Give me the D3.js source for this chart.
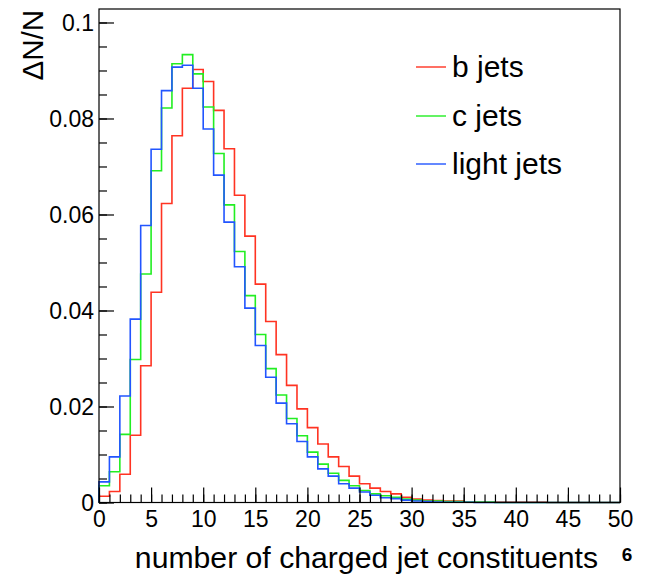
<!DOCTYPE html>
<html>
<head>
<meta charset="utf-8">
<script src="https://cdn.jsdelivr.net/npm/d3@7"></script>
<style>
  body { margin: 0; background: #fff; }
  svg text { font-family: "Liberation Sans", Arial, Helvetica, sans-serif; fill: #000; }
</style>
</head>
<body>
<svg id="chart" width="652" height="577" viewBox="0 0 652 577"></svg>
<script>
// bin contents, 50 bins of width 1 from 0 to 50
const bJets = [0.0013, 0.0023, 0.0059, 0.0140, 0.0285, 0.0438, 0.0623, 0.0764, 0.0863, 0.0902,
  0.0877, 0.0817, 0.0737, 0.0640, 0.0555, 0.0455, 0.0377, 0.0308, 0.0244, 0.0195,
  0.0156, 0.0122, 0.0095, 0.0075, 0.0055, 0.0039, 0.0030, 0.0023, 0.0018, 0.0011,
  0.0007, 0.0005, 0.0004, 0.0003, 0.0003, 0.0001, 0.0001, 0.0001, 0.0001, 0.0001,
  0.0001, 0.0001, 0.0001, 0, 0, 0, 0, 0, 0, 0];
const cJets = [0.0035, 0.0064, 0.0142, 0.0298, 0.0476, 0.0691, 0.0822, 0.0914, 0.0933, 0.0893,
  0.0824, 0.0727, 0.0620, 0.0523, 0.0431, 0.0350, 0.0279, 0.0224, 0.0175, 0.0139,
  0.0105, 0.0080, 0.0061, 0.0046, 0.0035, 0.0025, 0.0018, 0.0014, 0.0011, 0.0007,
  0.0005, 0.0003, 0.0003, 0.0002, 0.0002, 0.0001, 0.0001, 0.0001, 0, 0,
  0, 0, 0, 0, 0, 0, 0, 0, 0, 0];
const lightJets = [0.0043, 0.0095, 0.0222, 0.0382, 0.0577, 0.0736, 0.0858, 0.0907, 0.0911, 0.0863,
  0.0778, 0.0682, 0.0584, 0.0491, 0.0405, 0.0327, 0.0261, 0.0207, 0.0164, 0.0127,
  0.0095, 0.0070, 0.0055, 0.0039, 0.0030, 0.0022, 0.0015, 0.0010, 0.0008, 0.0005,
  0.0003, 0.0002, 0.0001, 0.00005, 0.00005, 0.00005, 0, 0, 0, 0,
  0, 0, 0, 0, 0, 0, 0, 0, 0, 0];

const seriesNames = ["b jets", "c jets", "light jets"];
const seriesColors = ["#ff3322", "#22ee22", "#2255ff"];
const xTicks = [0, 5, 10, 15, 20, 25, 30, 35, 40, 45, 50];
const yTicks = [0, 0.02, 0.04, 0.06, 0.08, 0.1];
const yTickLabels = ["0", "0.02", "0.04", "0.06", "0.08", "0.1"];

const svg = d3.select("#chart");
const frameLeft = 99, frameRight = 620, frameTop = 9, frameBottom = 502.5;

const x = d3.scaleLinear().domain([0, 50]).range([frameLeft, frameRight]);
const y = d3.scaleLinear().domain([0, 0.10281]).range([frameBottom, frameTop]);

// histograms (drawn first so the frame sits on top)
const line = d3.line()
  .x(d => x(d[0]))
  .y(d => y(d[1]))
  .curve(d3.curveStepAfter);

function histPoints(vals) {
  const pts = [[0, 0]];
  vals.forEach((v, i) => pts.push([i, v]));
  pts.push([vals.length, vals[vals.length - 1]]);
  pts.push([vals.length, 0]);
  return pts;
}

const allSeries = [bJets, cJets, lightJets];
svg.append("g")
  .selectAll("path")
  .data(allSeries)
  .enter()
  .append("path")
  .attr("d", d => line(histPoints(d)))
  .attr("fill", "none")
  .attr("stroke", (d, i) => seriesColors[i])
  .attr("stroke-width", 1.6);

// frame
svg.append("rect")
  .attr("x", frameLeft)
  .attr("y", frameTop)
  .attr("width", frameRight - frameLeft)
  .attr("height", frameBottom - frameTop)
  .attr("fill", "none")
  .attr("stroke", "#000")
  .attr("stroke-width", 1.2);

// x axis: ticks point inward (up)
const xMinor = d3.axisBottom(x).tickValues(d3.range(0, 51)).tickSize(-8).tickFormat("");
const xMajor = d3.axisBottom(x).tickValues(xTicks).tickSize(-15).tickFormat(d3.format("d"));

const gxMinor = svg.append("g").attr("transform", `translate(0,${frameBottom})`).call(xMinor);
const gx = svg.append("g").attr("transform", `translate(0,${frameBottom})`).call(xMajor);
[gxMinor, gx].forEach(g => {
  g.select(".domain").remove();
  g.selectAll("line").attr("stroke", "#000").attr("stroke-width", 1.2);
});
gx.selectAll("text")
  .attr("font-size", 23)
  .attr("dy", "0.71em")
  .attr("y", 8);

// y axis: ticks point inward (right)
const yMinor = d3.axisLeft(y).tickValues(d3.range(0, 0.1001, 0.005)).tickSize(-8).tickFormat("");
const yMajor = d3.axisLeft(y).tickValues(yTicks).tickSize(-15)
  .tickFormat((d, i) => yTickLabels[i]);

const gyMinor = svg.append("g").attr("transform", `translate(${frameLeft},0)`).call(yMinor);
const gy = svg.append("g").attr("transform", `translate(${frameLeft},0)`).call(yMajor);
[gyMinor, gy].forEach(g => {
  g.select(".domain").remove();
  g.selectAll("line").attr("stroke", "#000").attr("stroke-width", 1.2);
});
gy.selectAll("text")
  .attr("font-size", 23)
  .attr("x", -5)
  .attr("dy", "0.36em");

// axis titles
svg.append("text")
  .attr("x", 598)
  .attr("y", 568)
  .attr("text-anchor", "end")
  .attr("font-size", 30.2)
  .text("number of charged jet constituents");

svg.append("text")
  .attr("transform", "translate(43,10) rotate(-90)")
  .attr("text-anchor", "end")
  .attr("font-size", 29.5)
  .text("\u0394N/N");

svg.append("text")
  .attr("x", 627)
  .attr("y", 561)
  .attr("text-anchor", "middle")
  .attr("font-size", 19)
  .attr("font-weight", "bold")
  .text("6");

// legend
const legendY = [67, 116, 164];
const legend = svg.append("g")
  .selectAll("g")
  .data(seriesNames)
  .enter()
  .append("g")
  .attr("transform", (d, i) => `translate(0,${legendY[i]})`);

legend.append("line")
  .attr("x1", 416)
  .attr("x2", 446)
  .attr("stroke", (d, i) => seriesColors[i])
  .attr("stroke-width", 1.4);

legend.append("text")
  .attr("x", 452)
  .attr("y", 10)
  .attr("font-size", 30)
  .text(d => d);
</script>
</body>
</html>
